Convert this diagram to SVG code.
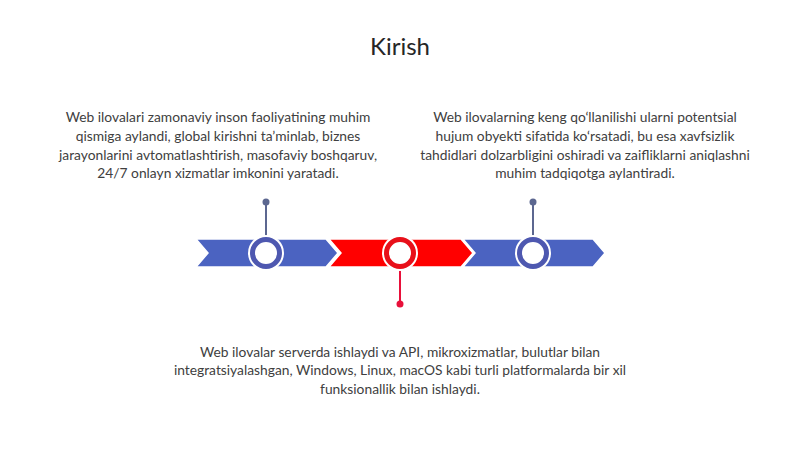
<svg xmlns="http://www.w3.org/2000/svg" width="800" height="449" viewBox="0 0 800 449">
<defs>
<style>
.t{font-family:Lato,"Open Sans","Liberation Sans",sans-serif;font-size:13.8px;fill:#404040;text-anchor:middle}
.title{font-family:Lato,"Open Sans","Liberation Sans",sans-serif;font-size:24px;fill:#262626;text-anchor:middle}
.blue{fill:#4B63C1;stroke:#fff;stroke-width:1.5}
.red{fill:#FF0000;stroke:#fff;stroke-width:1.5}
.halo{fill:#fff}
.ringB{fill:#fff;stroke:#4E58B0;stroke-width:5}
.ringR{fill:#fff;stroke:#E8101A;stroke-width:5}
.pinB{stroke:#5C6790;stroke-width:2}
.pinR{stroke:#E8103A;stroke-width:2}
</style>
</defs>
<rect width="800" height="449" fill="#fff"/>
<text class="title" x="400" y="55">Kirish</text>
<g id="band">
<path class="blue" d="M196,239 H326 L338,253 L326,267 H196 L208,253 Z"/>
<path class="red" d="M329,239 H461 L473,253 L461,267 H329 L341,253 Z"/>
<path class="blue" d="M463,239 H593 L605,253 L593,267 H463 L475,253 Z"/>
</g>
<g id="connectors">
<line class="pinB" x1="266" y1="202" x2="266" y2="238"/>
<line class="pinB" x1="533" y1="202" x2="533" y2="238"/>
<line class="pinR" x1="400" y1="268" x2="400" y2="304"/>
</g>
<g id="node1">
<circle class="halo" cx="266" cy="253" r="18"/>
<circle class="ringB" cx="266" cy="253" r="13.5"/>
<circle cx="266" cy="202" r="3.5" fill="#5C6790"/>
<text class="t"><tspan x="218" y="122">Web ilovalari zamonaviy inson faoliyatining muhim</tspan><tspan x="218" y="141">qismiga aylandi, global kirishni ta’minlab, biznes</tspan><tspan x="218" y="159.5">jarayonlarini avtomatlashtirish, masofaviy boshqaruv,</tspan><tspan x="218" y="178">24/7 onlayn xizmatlar imkonini yaratadi.</tspan></text>
</g>
<g id="node2">
<circle class="halo" cx="400" cy="253" r="18"/>
<circle class="ringR" cx="400" cy="253" r="13.5"/>
<circle cx="400" cy="304" r="3.5" fill="#E8103A"/>
<text class="t"><tspan x="400" y="356.5">Web ilovalar serverda ishlaydi va API, mikroxizmatlar, bulutlar bilan</tspan><tspan x="400" y="375">integratsiyalashgan, Windows, Linux, macOS kabi turli platformalarda bir xil</tspan><tspan x="400" y="393.5">funksionallik bilan ishlaydi.</tspan></text>
</g>
<g id="node3">
<circle class="halo" cx="533" cy="253" r="18"/>
<circle class="ringB" cx="533" cy="253" r="13.5"/>
<circle cx="533" cy="202" r="3.5" fill="#5C6790"/>
<text class="t"><tspan x="585" y="122">Web ilovalarning keng qo‘llanilishi ularni potentsial</tspan><tspan x="585" y="141">hujum obyekti sifatida ko‘rsatadi, bu esa xavfsizlik</tspan><tspan x="585" y="159.5">tahdidlari dolzarbligini oshiradi va zaifliklarni aniqlashni</tspan><tspan x="585" y="178">muhim tadqiqotga aylantiradi.</tspan></text>
</g>
</svg>
